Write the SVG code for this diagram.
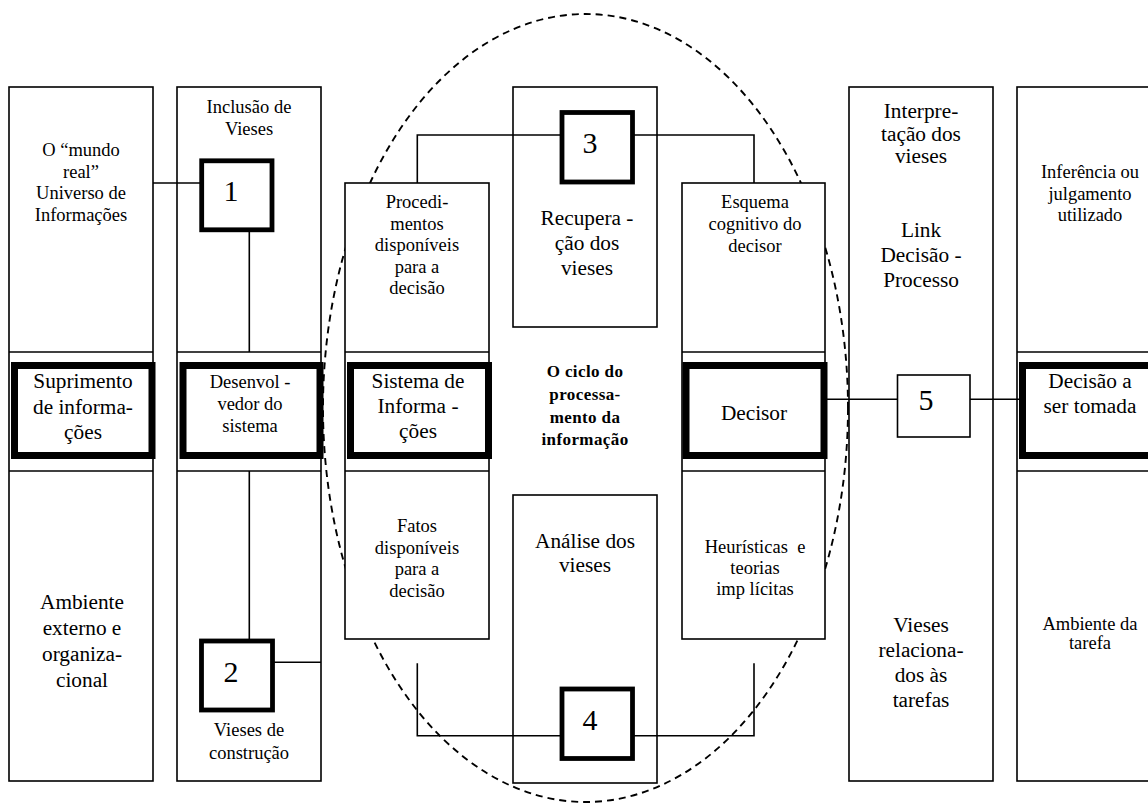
<svg xmlns="http://www.w3.org/2000/svg" width="1148" height="804" viewBox="0 0 1148 804">
  <style>
    .box { fill: #fff; stroke: #000; stroke-width: 1.6; }
    .thick { fill: #fff; stroke: #000; stroke-width: 7; }
    .numbox { fill: #fff; stroke: #000; stroke-width: 4.8; }
    .numbox-thin { fill: #fff; stroke: #000; stroke-width: 1.6; }
    .div { stroke: #000; stroke-width: 1.6; fill: none; }
    .wire { stroke: #000; stroke-width: 1.6; fill: none; }
    .cycle { fill: none; stroke: #000; stroke-width: 1.9; stroke-dasharray: 7 5; }
    text { font-family: "Liberation Serif", "Times New Roman", serif; text-anchor: middle; fill: #000; }
    .m { font-size: 18.5px; }
    .l { font-size: 21.3px; }
    .n { font-size: 30px; }
    .b { font-size: 17px; font-weight: bold; letter-spacing: 0.4px; }
  </style>

  <!-- dashed boundary of the information processing cycle -->
  <ellipse id="cycle" class="cycle" cx="585.5" cy="408" rx="262.5" ry="394"/>

  <!-- column 1: information supply -->
  <g id="col-supply">
    <rect class="box" x="9" y="87" width="144" height="694"/>
    <line class="div" x1="9" y1="352" x2="153" y2="352"/>
    <line class="div" x1="9" y1="471" x2="153" y2="471"/>
    <rect class="thick" x="14.5" y="365.5" width="137.5" height="90"/>
    <text class="m" x="81"><tspan x="81" y="156">O “mundo</tspan><tspan x="81" y="177.5">real”</tspan><tspan x="81" y="199">Universo de</tspan><tspan x="81" y="220.5">Informações</tspan></text>
    <text class="l" x="83"><tspan x="83" y="388">Suprimento</tspan><tspan x="83" y="413.5">de informa-</tspan><tspan x="83" y="439">ções</tspan></text>
    <text class="l" x="82"><tspan x="82" y="609">Ambiente</tspan><tspan x="82" y="635">externo e</tspan><tspan x="82" y="661">organiza-</tspan><tspan x="82" y="687">cional</tspan></text>
  </g>

  <!-- column 2: system developer -->
  <g id="col-developer">
    <rect class="box" x="177" y="87" width="144" height="694"/>
    <line class="div" x1="177" y1="352" x2="321" y2="352"/>
    <line class="div" x1="177" y1="471" x2="321" y2="471"/>
    <rect class="thick" x="183" y="365.5" width="137" height="90"/>
    <text class="m" x="249"><tspan x="249" y="113">Inclusão de</tspan><tspan x="249" y="135">Vieses</tspan></text>
    <text class="m" x="250"><tspan x="250" y="388">Desenvol -</tspan><tspan x="250" y="410">vedor do</tspan><tspan x="250" y="432">sistema</tspan></text>
    <text class="m" x="249"><tspan x="249" y="736">Vieses de</tspan><tspan x="249" y="759">construção</tspan></text>
  </g>

  <!-- column 3: information system -->
  <g id="col-system">
    <rect class="box" x="345" y="183" width="144" height="456"/>
    <line class="div" x1="345" y1="352" x2="489" y2="352"/>
    <line class="div" x1="345" y1="471" x2="489" y2="471"/>
    <rect class="thick" x="350.5" y="365.5" width="138" height="90"/>
    <text class="m" x="417"><tspan x="417" y="208">Procedi-</tspan><tspan x="417" y="229.5">mentos</tspan><tspan x="417" y="251">disponíveis</tspan><tspan x="417" y="272.5">para a</tspan><tspan x="417" y="294">decisão</tspan></text>
    <text class="l" x="418"><tspan x="418" y="388">Sistema de</tspan><tspan x="418" y="413">Informa -</tspan><tspan x="418" y="438">ções</tspan></text>
    <text class="m" x="417"><tspan x="417" y="532">Fatos</tspan><tspan x="417" y="553.5">disponíveis</tspan><tspan x="417" y="575">para a</tspan><tspan x="417" y="596.5">decisão</tspan></text>
  </g>

  <!-- column 4: retrieval and analysis of biases -->
  <g id="col-retrieval">
    <rect class="box" x="513" y="87" width="144" height="240"/>
    <text class="l" x="587"><tspan x="587" y="225">Recupera -</tspan><tspan x="587" y="250">ção dos</tspan><tspan x="587" y="275">vieses</tspan></text>
  </g>
  <g id="cycle-title">
    <text class="b" x="585"><tspan x="585" y="377">O ciclo do</tspan><tspan x="585" y="400">processa-</tspan><tspan x="585" y="422.5">mento da</tspan><tspan x="585" y="445">informação</tspan></text>
  </g>
  <g id="col-analysis">
    <rect class="box" x="513" y="495" width="144" height="288"/>
    <text class="l" x="585"><tspan x="585" y="548">Análise dos</tspan><tspan x="585" y="572">vieses</tspan></text>
  </g>

  <!-- column 5: decision maker -->
  <g id="col-decisor">
    <rect class="box" x="682" y="183" width="143" height="456"/>
    <line class="div" x1="682" y1="352" x2="825" y2="352"/>
    <line class="div" x1="682" y1="471" x2="825" y2="471"/>
    <rect class="thick" x="686" y="365.5" width="138" height="90"/>
    <text class="m" x="755"><tspan x="755" y="208">Esquema</tspan><tspan x="755" y="230">cognitivo do</tspan><tspan x="755" y="252">decisor</tspan></text>
    <text class="l" x="754" y="420">Decisor</text>
    <text class="m" x="755"><tspan x="755" y="553">Heurísticas &#160;e</tspan><tspan x="755" y="574">teorias</tspan><tspan x="755" y="595">imp lícitas</tspan></text>
  </g>

  <!-- column 6: interpretation of biases -->
  <g id="col-interpretation">
    <rect class="box" x="849" y="87" width="144" height="694"/>
    <text class="l" x="921"><tspan x="921" y="118">Interpre-</tspan><tspan x="921" y="140.5">tação dos</tspan><tspan x="921" y="163">vieses</tspan></text>
    <text class="l" x="921"><tspan x="921" y="237">Link</tspan><tspan x="921" y="262">Decisão -</tspan><tspan x="921" y="287">Processo</tspan></text>
    <text class="l" x="921"><tspan x="921" y="632">Vieses</tspan><tspan x="921" y="657">relaciona-</tspan><tspan x="921" y="682">dos às</tspan><tspan x="921" y="707">tarefas</tspan></text>
  </g>

  <!-- column 7: decision to be made -->
  <g id="col-decision">
    <rect class="box" x="1017" y="87" width="146" height="694"/>
    <line class="div" x1="1017" y1="352" x2="1163" y2="352"/>
    <line class="div" x1="1017" y1="471" x2="1163" y2="471"/>
    <rect class="thick" x="1022.5" y="365.5" width="140" height="90"/>
    <text class="m" x="1090"><tspan x="1090" y="178">Inferência ou</tspan><tspan x="1090" y="199.5">julgamento</tspan><tspan x="1090" y="221">utilizado</tspan></text>
    <text class="l" x="1090"><tspan x="1090" y="388">Decisão a</tspan><tspan x="1090" y="413">ser tomada</tspan></text>
    <text class="m" x="1090"><tspan x="1090" y="630">Ambiente da</tspan><tspan x="1090" y="649">tarefa</tspan></text>
  </g>

  <!-- links between the stages -->
  <g id="connectors">
    <line class="wire" x1="153" y1="183" x2="202" y2="183"/>
    <line class="wire" x1="249.3" y1="230" x2="249.3" y2="352"/>
    <line class="wire" x1="249.3" y1="471" x2="249.3" y2="641"/>
    <line class="wire" x1="272" y1="662.3" x2="321" y2="662.3"/>
    <polyline class="wire" points="417.3,183 417.3,135 562,135"/>
    <polyline class="wire" points="632.5,135 754,135 754,183"/>
    <polyline class="wire" points="417.3,663.3 417.3,735.7 562,735.7"/>
    <polyline class="wire" points="632.5,735.7 754,735.7 754,663.3"/>
    <line class="wire" x1="827" y1="399.3" x2="897.5" y2="399.3"/>
    <line class="wire" x1="970" y1="399.3" x2="1019" y2="399.3"/>
  </g>

  <!-- numbered bias points -->
  <g id="bias-1">
    <rect class="numbox" x="201.7" y="160.8" width="70.3" height="69"/>
    <text class="n" x="231" y="201">1</text>
  </g>
  <g id="bias-2">
    <rect class="numbox" x="201.5" y="641" width="71" height="69"/>
    <text class="n" x="231" y="682">2</text>
  </g>
  <g id="bias-3">
    <rect class="numbox" x="562" y="112.5" width="70.5" height="69.5"/>
    <text class="n" x="590" y="153">3</text>
  </g>
  <g id="bias-4">
    <rect class="numbox" x="562" y="689" width="70.5" height="69.5"/>
    <text class="n" x="590" y="730">4</text>
  </g>
  <g id="bias-5">
    <rect class="numbox-thin" x="897.5" y="375" width="72.5" height="62"/>
    <text class="n" x="926" y="410">5</text>
  </g>
</svg>
